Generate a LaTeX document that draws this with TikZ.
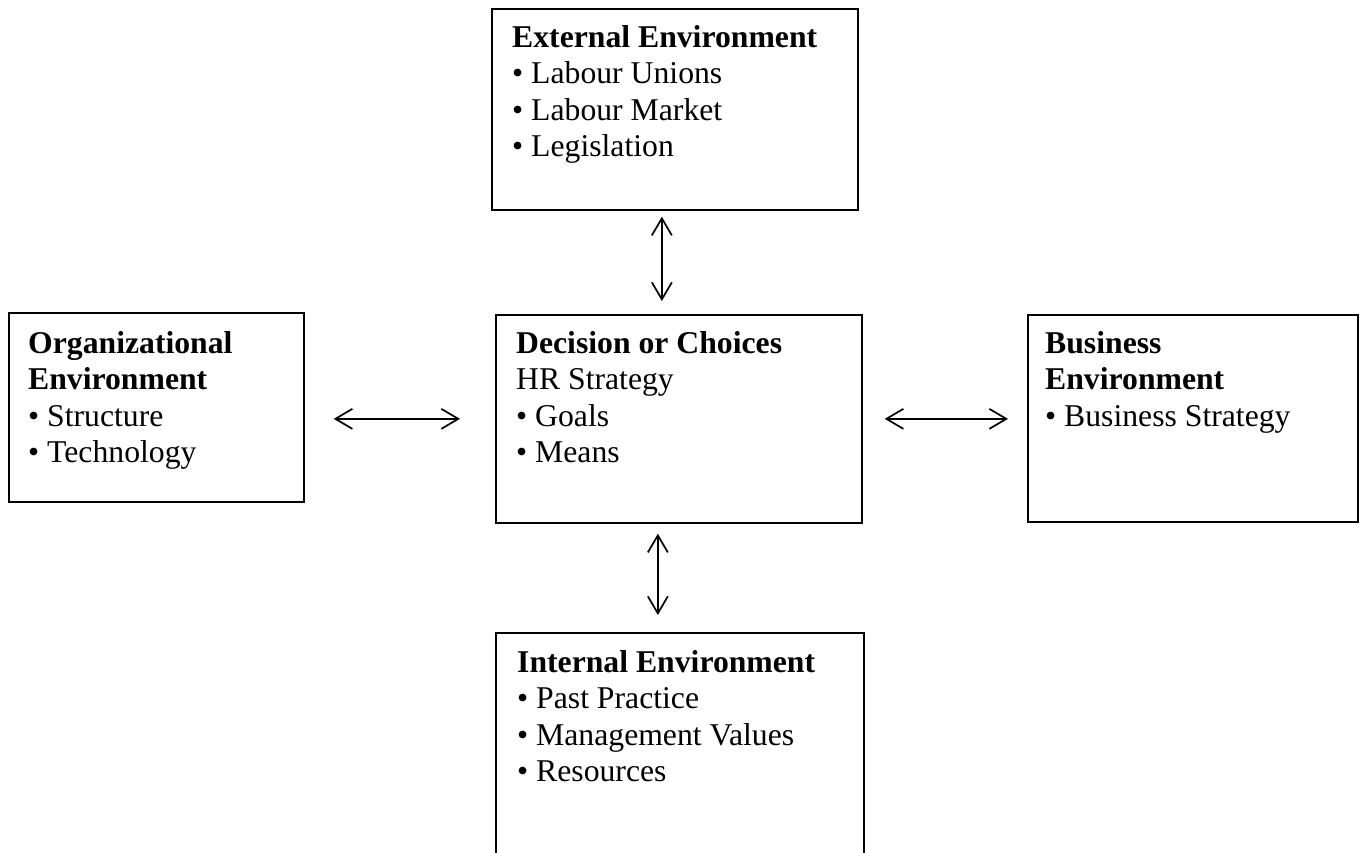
\documentclass[tikz,border=0pt]{standalone}
\usepackage{fontspec}
\setmainfont{Liberation Serif}
\usetikzlibrary{arrows.meta,calc}
\begin{document}
\begin{tikzpicture}[x=1pt,y=-1pt,
  box/.style={draw, line width=1.7pt, inner sep=0pt, anchor=north west},
  txt/.style={anchor=north west, inner sep=0pt, align=left, font=\fontsize{31.7}{36.5}\selectfont},
  arr/.style={line width=1.7pt, {Straight Barb[length=17pt,width=20pt]}-{Straight Barb[length=17pt,width=20pt]}}]
\path[use as bounding box, clip] (0,0) rectangle (1364,852);
\fill[white] (0,0) rectangle (1364,852);
% boxes
\node[box, minimum width=366pt, minimum height=201pt] (ext) at (491,8) {};
\node[box, minimum width=295pt, minimum height=189pt] (org) at (8,312) {};
\node[box, minimum width=366pt, minimum height=208pt] (dec) at (495,314) {};
\node[box, minimum width=330pt, minimum height=207pt] (biz) at (1027,314) {};
\node[box, minimum width=368pt, minimum height=260pt] (int) at (495,632) {};
% texts
\node[txt] (extT) at (512,21) {\rule{0pt}{26pt}\textbf{External Environment}\\• Labour Unions\\• Labour Market\\• Legislation};
\node[txt] (orgT) at (28,327) {\rule{0pt}{26pt}\textbf{Organizational}\\\textbf{Environment}\\• Structure\\• Technology};
\node[txt] (decT) at (516,327) {\rule{0pt}{26pt}\textbf{Decision or Choices}\\HR Strategy\\• Goals\\• Means};
\node[txt] (bizT) at (1045,327) {\rule{0pt}{26pt}\textbf{Business}\\\textbf{Environment}\\• Business Strategy};
\node[txt] (intT) at (517,646) {\rule{0pt}{26pt}\textbf{Internal Environment}\\• Past Practice\\• Management Values\\• Resources};
% arrows
\draw[arr] ($(ext.south)+(-13,6)$) -- ($(dec.north)+(-17,-13)$);
\draw[arr] ($(org.east)+(29,11.5)$) -- ($(dec.west)+(-35,0)$);
\draw[arr] ($(dec.east)+(22,0)$) -- ($(biz.west)+(-19,0.5)$);
\draw[arr] ($(dec.south)+(-21,10)$) -- ($(int.north)+(-22,-17)$);
\end{tikzpicture}
\end{document}
